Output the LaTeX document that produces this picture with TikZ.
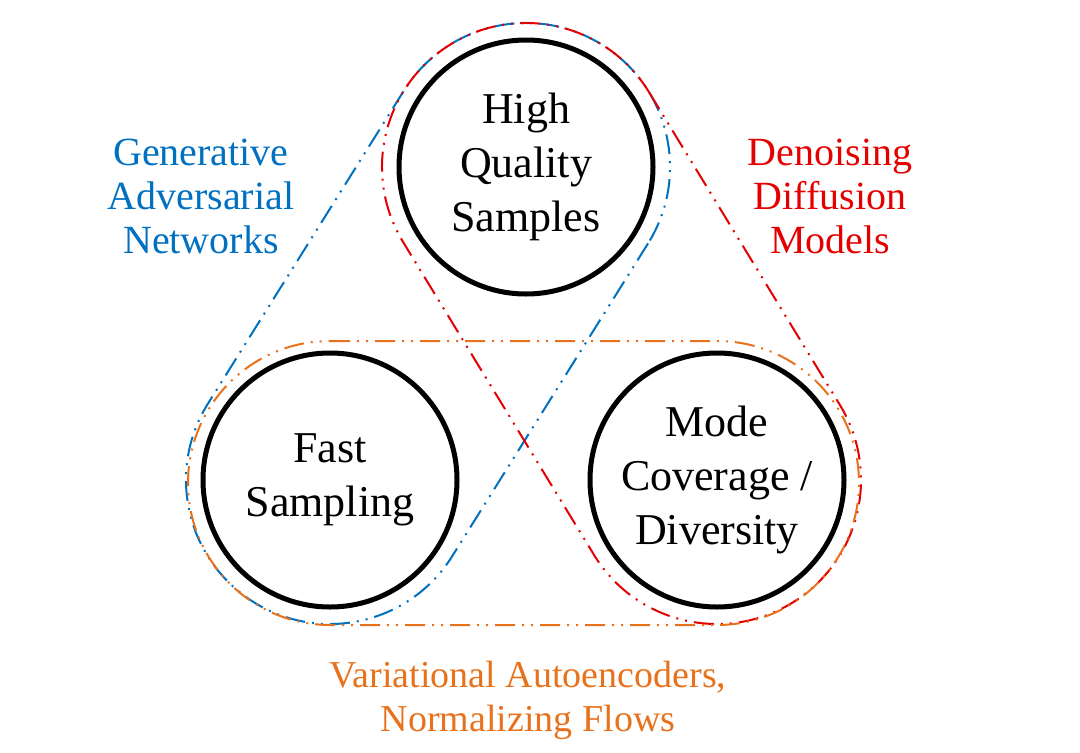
\documentclass[tikz,border=0pt]{standalone}
\usepackage{fontspec}
\setmainfont{Liberation Serif}
\usetikzlibrary{calc}
\definecolor{gancol}{RGB}{0,112,192}
\definecolor{ddmcol}{RGB}{228,0,0}
\definecolor{vaecol}{RGB}{232,114,28}
% hull of two equal circles: [style]{centre a}{centre b}{radius}
\newcommand{\pairhull}[4][]{%
  \draw[#1] let \p1=($(#3)-(#2)$), \n1={atan2(\y1,\x1)} in
    ($(#2)+(\n1+90:#4)$) -- ($(#3)+(\n1+90:#4)$)
    arc[start angle=\n1+90, end angle=\n1-90, radius=#4]
    -- ($(#2)+(\n1-90:#4)$)
    arc[start angle=\n1-90, end angle=\n1-270, radius=#4] -- cycle;}

\begin{document}
\begin{tikzpicture}[
    x=1pt, y=1pt,
    goal/.style={circle, draw, line width=5pt, minimum size=254pt, inner sep=0pt, align=center, font=\fontsize{44}{54}\selectfont},
    family/.style={align=center, font=\fontsize{40}{44}\selectfont},
    hull/.style={line width=2pt, dash pattern=on 20pt off 7pt on 2pt off 7pt on 2pt off 7pt},
]
\useasboundingbox (0,0) rectangle (1080,-753);

% hulls first, circles on top
\coordinate (hqc) at (526,-167);
\coordinate (fastc) at (330,-480);
\coordinate (modec) at (717,-480);
\pairhull[hull, gancol]{hqc}{fastc}{144}
\pairhull[hull, ddmcol]{hqc}{modec}{144}
\pairhull[hull, vaecol]{$(fastc)+(0,-3)$}{$(modec)+(0,-3)$}{142}

\node[goal] (hqs) at (hqc) {High\\Quality\\Samples};
\node[goal] (fast) at (fastc) {Fast\\Sampling};
\node[goal] (mode) at (modec) {Mode\\Coverage /\\Diversity};

\node[family, text=gancol] (gan) at (201,-196) {Generative\\Adversarial\\Networks};
\node[family, text=ddmcol] (ddm) at (830,-196) {Denoising\\Diffusion\\Models};
\node[family, text=vaecol, font=\fontsize{38}{44}\selectfont] (vae) at (528,-700) {Variational Autoencoders,\\Normalizing Flows};
\end{tikzpicture}
\end{document}
